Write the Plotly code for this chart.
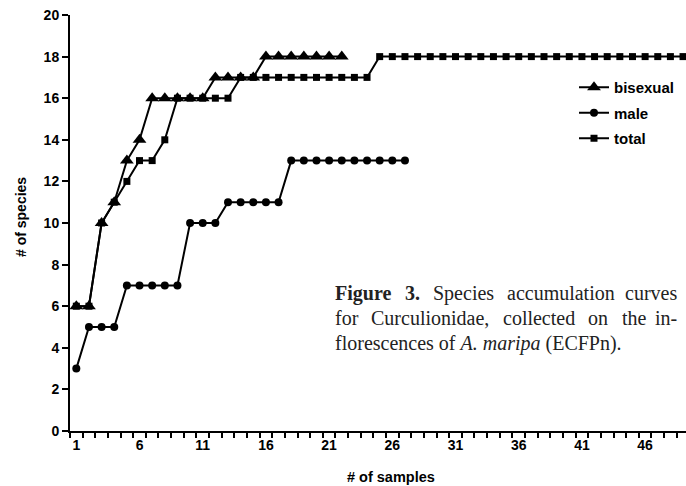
import plotly.graph_objects as go

samples = list(range(1, 50))
bisexual = [6, 6, 10, 11, 13, 14, 16, 16, 16, 16, 16, 17, 17, 17, 17, 18, 18, 18, 18, 18, 18, 18]
male = [3, 5, 5, 5, 7, 7, 7, 7, 7, 10, 10, 10, 11, 11, 11, 11, 11, 13, 13, 13, 13, 13, 13, 13, 13, 13, 13]
total = [6, 6, 10, 11, 12, 13, 13, 14, 16, 16, 16, 16, 16, 17, 17, 17, 17, 17, 17, 17, 17, 17, 17, 17,
         18, 18, 18, 18, 18, 18, 18, 18, 18, 18, 18, 18, 18, 18, 18, 18, 18, 18, 18, 18, 18, 18, 18, 18, 18]
x_ticks = [1, 6, 11, 16, 21, 26, 31, 36, 41, 46]
y_ticks = [0, 2, 4, 6, 8, 10, 12, 14, 16, 18, 20]

W, H = 686, 486
L, R, T, B = 70, 0, 15, 55
PW, PH = W - L - R, H - T - B


def px(x):
    return (x - L) / PW


def py(y):
    return (H - B - y) / PH


SANS = "Liberation Sans, Arial, sans-serif"
SERIF = "Liberation Serif, Times New Roman, serif"

fig = go.Figure()
fig.add_trace(go.Scatter(x=samples[:len(total)], y=total, name="total", mode="lines+markers",
                         line=dict(color="black", width=2),
                         marker=dict(symbol="square", size=7, color="black"),
                         legendgroup="c", legendrank=3))
fig.add_trace(go.Scatter(x=samples[:len(male)], y=male, name="male", mode="lines+markers",
                         line=dict(color="black", width=2),
                         marker=dict(symbol="circle", size=8, color="black"),
                         legendgroup="b", legendrank=2))
fig.add_trace(go.Scatter(x=samples[:len(bisexual)], y=bisexual, name="bisexual", mode="lines+markers",
                         line=dict(color="black", width=2),
                         marker=dict(symbol="triangle-up", size=12, color="black"),
                         legendgroup="a", legendrank=1))

fig.update_layout(
    width=W, height=H,
    margin=dict(l=L, r=R, t=T, b=B, autoexpand=False),
    paper_bgcolor="white", plot_bgcolor="white",
    font=dict(family=SANS, size=12, color="black"),
    showlegend=True,
    legend=dict(x=px(574), y=py(71), xanchor="left", yanchor="top",
                font=dict(family=SANS, size=15, color="black", weight="bold"),
                bgcolor="rgba(0,0,0,0)", tracegroupgap=3, itemwidth=30),
    xaxis=dict(range=[0.5, 0.5 + PW / 12.64], showgrid=False, zeroline=False, automargin=False,
               showline=True, linecolor="black", linewidth=2,
               tickmode="array", tickvals=x_ticks, ticktext=[str(v) for v in x_ticks],
               ticks="", ticklen=0,
               minor=dict(ticks="outside", tick0=0.5, dtick=1, ticklen=5, tickwidth=2, tickcolor="black"),
               tickfont=dict(family=SANS, size=14, color="black", weight="bold")),
    yaxis=dict(range=[0, 20], showgrid=False, zeroline=False, automargin=False,
               showline=True, linecolor="black", linewidth=2,
               tickmode="array", tickvals=y_ticks, ticktext=[str(v) for v in y_ticks],
               ticks="outside", ticklen=6, tickwidth=2, tickcolor="black",
               tickfont=dict(family=SANS, size=14, color="black", weight="bold")),
)

# axis titles (original chart is cropped on the right, so titles are placed explicitly)
fig.add_annotation(text="<b># of samples</b>", xref="paper", yref="paper",
                   x=px(391), y=py(477), xanchor="center", yanchor="middle", showarrow=False,
                   font=dict(family=SANS, size=14.5, color="black"))
fig.add_annotation(text="<b># of species</b>", xref="paper", yref="paper", textangle=-90,
                   x=px(21), y=py(217), xanchor="center", yanchor="middle", showarrow=False,
                   font=dict(family=SANS, size=14, color="black"))

# caption, justified word by word
cap_color = "#222222"
CAP = 20
line1 = [("<b>Figure</b>", 333, "left"), ("<b>3.</b>", 403, "left"), ("Species", 431, "left"),
         ("accumulation", 505, "left"), ("curves", 679, "right")]
line2 = [("for", 333, "left"), ("Curculionidae,", 369, "left"), ("collected", 501, "left"),
         ("on", 586, "left"), ("the", 620, "left"), ("in-", 679, "right")]
for words, yy in ((line1, 293), (line2, 318)):
    for w, xx, anc in words:
        fig.add_annotation(text=w, xref="paper", yref="paper", x=px(xx), y=py(yy),
                           xanchor=anc, yanchor="middle", showarrow=False,
                           font=dict(family=SERIF, size=CAP, color=cap_color))
fig.add_annotation(text="florescences of <i>A. maripa</i> (ECFPn).", xref="paper", yref="paper",
                   x=px(333), y=py(343), xanchor="left", yanchor="middle", showarrow=False,
                   font=dict(family=SERIF, size=CAP, color=cap_color))

fig.write_html("out.html", config={"displayModeBar": False},
               post_script="document.body.style.margin='0';document.body.style.overflow='hidden';")
